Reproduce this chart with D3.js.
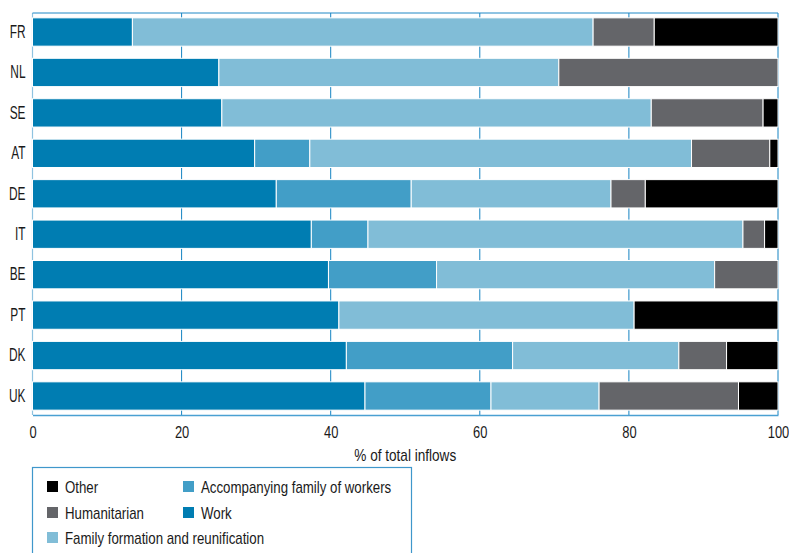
<!DOCTYPE html>
<html>
<head>
<meta charset="utf-8">
<script src="https://cdn.jsdelivr.net/npm/d3@7"></script>
<style>
  html, body { margin: 0; padding: 0; background: #fff; }
  svg { display: block; }
  text { font-family: "Liberation Sans", Arial, sans-serif; fill: #1a1a1a; }
</style>
</head>
<body>
<svg id="chart" width="789" height="553"></svg>
<script>
// ---- data ----
const countries = ["FR", "NL", "SE", "AT", "DE", "IT", "BE", "PT", "DK", "UK"];
const work          = [13.4, 25.0, 25.4, 29.8, 32.7, 37.4, 39.7, 41.1, 42.1, 44.6];
const accompanying  = [ 0.0,  0.0,  0.0,  7.4, 18.1,  7.6, 14.5,  0.0, 22.3, 16.9];
const family        = [61.8, 45.6, 57.6, 51.2, 26.8, 50.3, 37.3, 39.6, 22.3, 14.5];
const humanitarian  = [ 8.2, 29.4, 15.0, 10.5,  4.6,  2.9,  8.5,  0.0,  6.4, 18.7];
const other         = [16.6,  0.0,  2.0,  1.1, 17.8,  1.8,  0.0, 19.3,  6.9,  5.3];
const xTicks = [0, 20, 40, 60, 80, 100];
const seriesNames = {
  work: "Work",
  accompanying: "Accompanying family of workers",
  family: "Family formation and reunification",
  humanitarian: "Humanitarian",
  other: "Other"
};
const xTitle = "% of total inflows";

// ---- build table ----
const keys = ["work", "accompanying", "family", "humanitarian", "other"];
const table = countries.map((c, i) => ({
  country: c, work: work[i], accompanying: accompanying[i], family: family[i],
  humanitarian: humanitarian[i], other: other[i]
}));
const colors = {
  work: "#007db2",
  accompanying: "#429ec7",
  family: "#81bdd7",
  humanitarian: "#646569",
  other: "#000000"
};

// horizontally condense text around its anchor x
function squeeze(sel, sx) {
  sel.each(function() {
    const t = d3.select(this);
    const ax = +(t.attr("x") || 0);
    t.attr("transform", `translate(${ax},0) scale(${sx},1) translate(${-ax},0)`);
  });
}

const svg = d3.select("#chart");
const pLeft = 32.5, pRight = 778, pTop = 13, pBottom = 415;

const x = d3.scaleLinear().domain([0, 100]).range([pLeft, pRight]);
const y = d3.scaleBand().domain(countries).range([pTop, pBottom]).paddingInner(0.3).paddingOuter(0.12);

// gridlines
svg.append("g").selectAll("line").data(xTicks.filter(d => d > 0)).join("line")
  .attr("x1", d => x(d)).attr("x2", d => x(d))
  .attr("y1", pTop).attr("y2", pBottom)
  .attr("stroke", "#1483c2").attr("stroke-width", 1);

// left axis line (light)
svg.append("line").attr("x1", pLeft).attr("x2", pLeft).attr("y1", pTop).attr("y2", pBottom)
  .attr("stroke", "#8fc3e0").attr("stroke-width", 1.2);
// top frame line
svg.append("line").attr("x1", pLeft).attr("x2", pRight).attr("y1", pTop).attr("y2", pTop)
  .attr("stroke", "#1e88c6").attr("stroke-width", 1);

// bars
const stack = d3.stack().keys(keys)(table);
svg.append("g").selectAll("g").data(stack).join("g")
  .attr("fill", d => colors[d.key])
  .selectAll("rect").data(d => d.filter(p => p[1] - p[0] > 0)).join("rect")
  .attr("x", d => x(d[0]))
  .attr("width", d => x(d[1]) - x(d[0]))
  .attr("y", d => y(d.data.country))
  .attr("height", y.bandwidth())
  .attr("stroke", "#ffffff").attr("stroke-width", 1);

// y axis labels
const yAxis = d3.axisLeft(y).tickSize(0).tickPadding(7);
const gy = svg.append("g").attr("transform", `translate(${pLeft},0)`).call(yAxis);
gy.select(".domain").remove();
gy.attr("font-family", null);
gy.selectAll("text").attr("font-size", 18).attr("fill", "#1a1a1a").call(squeeze, 0.66);

// x axis
const xAxis = d3.axisBottom(x).tickValues(xTicks).tickSize(0).tickPadding(11).tickFormat(d3.format("d"));
const gx = svg.append("g").attr("transform", `translate(0,${pBottom})`).call(xAxis);
gx.attr("font-family", null);
gx.select(".domain").attr("stroke", "#4aa0d2").attr("stroke-width", 1.5);
gx.selectAll("text").attr("font-size", 17).attr("fill", "#1a1a1a").call(squeeze, 0.76);

svg.append("text").attr("x", (pLeft + pRight) / 2).attr("y", 461)
  .attr("text-anchor", "middle").attr("font-size", 16).text(xTitle).call(squeeze, 0.85);

// legend
svg.append("rect").attr("x", 32.5).attr("y", 467.5).attr("width", 379).attr("height", 100)
  .attr("fill", "none").attr("stroke", "#3f97cb").attr("stroke-width", 1.2);

const legendPos = [
  {k: "other", x: 47, y: 487},
  {k: "accompanying", x: 183, y: 487},
  {k: "humanitarian", x: 47, y: 513},
  {k: "work", x: 183, y: 513},
  {k: "family", x: 47, y: 538}
];
const lg = svg.append("g").selectAll("g").data(legendPos).join("g")
  .attr("transform", d => `translate(${d.x},${d.y})`);
lg.append("rect").attr("x", 0).attr("y", -6).attr("width", 11).attr("height", 11)
  .attr("fill", d => colors[d.k]);
lg.append("text").attr("x", 18).attr("y", 0).attr("dy", "0.35em")
  .attr("font-size", 16).text(d => seriesNames[d.k]).call(squeeze, 0.83);
</script>
</body>
</html>
